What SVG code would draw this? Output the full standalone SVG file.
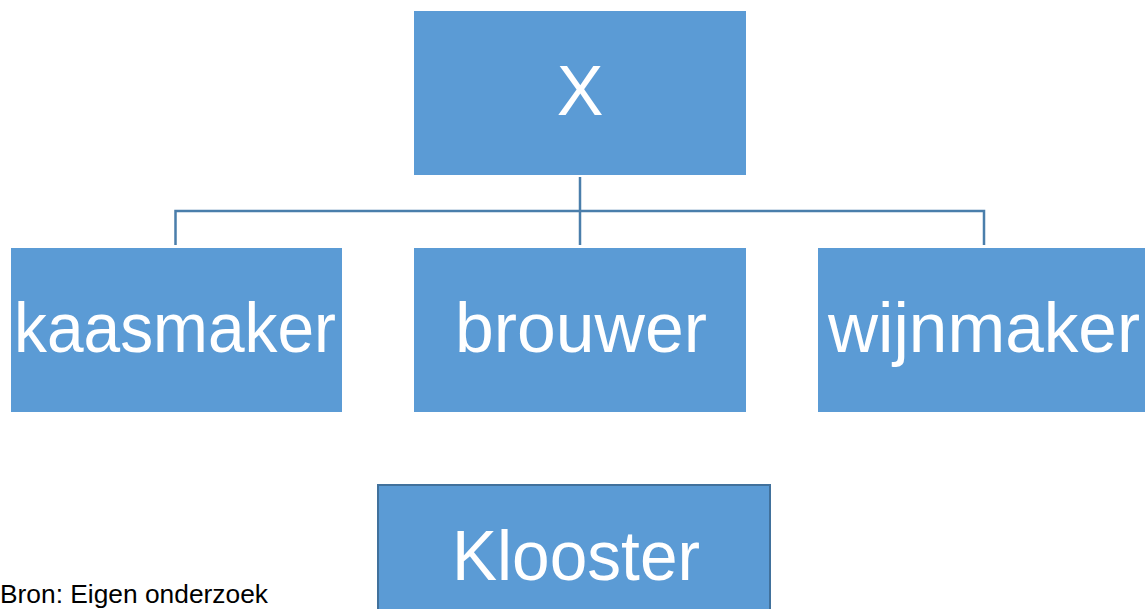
<svg xmlns="http://www.w3.org/2000/svg" width="1145" height="609" viewBox="0 0 1145 609">
<style>
.box{fill:#5b9bd5;}
.lbl{font-family:"Liberation Sans",Arial,sans-serif;font-size:70px;fill:#ffffff;text-anchor:middle;}
.con{stroke:#4a7eab;stroke-width:2.5;fill:none;}
</style>
<rect width="1145" height="609" fill="#ffffff"/>
<g id="connectors">
<path class="con" d="M580 177 V245"/>
<path class="con" d="M175.5 245 V211 H984 V245"/>
</g>
<g id="node-x"><rect class="box" x="414" y="11" width="332" height="164"/><text class="lbl" x="580" y="115">X</text></g>
<g id="node-kaasmaker"><rect class="box" x="11" y="248" width="331" height="164"/><text class="lbl" x="175" y="352" textLength="322" lengthAdjust="spacingAndGlyphs">kaasmaker</text></g>
<g id="node-brouwer"><rect class="box" x="414" y="248" width="332" height="164"/><text class="lbl" x="581" y="352" textLength="252" lengthAdjust="spacingAndGlyphs">brouwer</text></g>
<g id="node-wijnmaker"><rect class="box" x="818" y="248" width="330" height="164"/><text class="lbl" x="984" y="352" textLength="312" lengthAdjust="spacingAndGlyphs">wijnmaker</text></g>
<g id="node-klooster"><rect class="box" x="378" y="485" width="392" height="130" stroke="#41719c" stroke-width="2"/><text class="lbl" x="576" y="580" textLength="248" lengthAdjust="spacingAndGlyphs">Klooster</text></g>
<text x="0" y="603" font-family="'Liberation Sans',Arial,sans-serif" font-size="26" fill="#000000" textLength="268" lengthAdjust="spacingAndGlyphs">Bron: Eigen onderzoek</text>
</svg>
